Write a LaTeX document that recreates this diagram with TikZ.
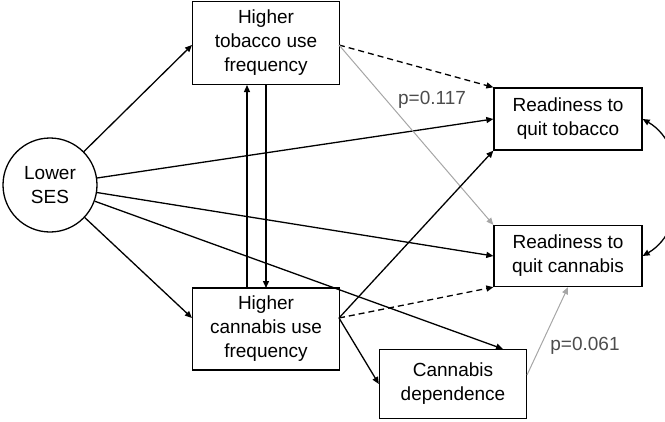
\documentclass[tikz,border=0pt]{standalone}
\usepackage{fontspec}
\setmainfont{Liberation Sans}
\usetikzlibrary{arrows.meta}
\begin{document}
\begin{tikzpicture}[x=1pt,y=-1pt,
  box/.style={draw,line width=1.3pt,align=center,font=\fontsize{19}{24}\selectfont,inner sep=0pt},
  ar/.style={-{Triangle[length=7pt,width=6pt]},line width=1.3pt},
  gr/.style={-{Triangle[length=7pt,width=6pt]},line width=1pt,gray!70},
  da/.style={ar,dashed,dash pattern=on 6pt off 4pt},
  lab/.style={text=black!70,font=\fontsize{19}{24}\selectfont}]
\useasboundingbox (0,0) rectangle (665,421);
\node[box,circle,minimum size=94pt] (ses) at (50,185) {Lower\\SES};
\node[box,minimum width=147pt,minimum height=83pt] (tob) at (266,43) {Higher\\tobacco use\\frequency};
\node[box,minimum width=147pt,minimum height=82pt] (can) at (266,329) {Higher\\cannabis use\\frequency};
\node[box,minimum width=148pt,minimum height=62pt] (rt) at (568,119) {Readiness to\\quit tobacco};
\node[box,minimum width=148pt,minimum height=61pt] (rc) at (568,256) {Readiness to\\quit cannabis};
\node[box,minimum width=147pt,minimum height=69pt] (cd) at (453,384) {Cannabis\\dependence};
\coordinate (tobE) at (339,45);
\coordinate (canE) at (339,318);
\draw[ar] (ses) -- (192,45);
\draw[ar] (ses) -- (192,318);
\draw[ar] (ses) -- (rt.west);
\draw[ar] (ses) -- (rc.west);
\draw[ar] (ses) -- (503,349);
\draw[ar] (266,85) -- (266,288);
\draw[ar] (247,288) -- (247,85);
\draw[da] (tobE) -- (rt.north west);
\draw[gr] (tobE) -- (rc.north west);
\draw[ar] (canE) -- (rt.south west);
\draw[da] (canE) -- (rc.south west);
\draw[ar] (canE) -- (cd.west);
\draw[gr] (527,375) -- (rc.south);
\draw[{Triangle[length=7pt,width=6pt]}-{Triangle[length=7pt,width=6pt]},line width=1.3pt] (rt.east) to[out=-30,in=30] (rc.east);
\node[lab] (p1) at (432,100) {p=0.117};
\node[lab] (p2) at (585,346) {p=0.061};
\end{tikzpicture}
\end{document}
